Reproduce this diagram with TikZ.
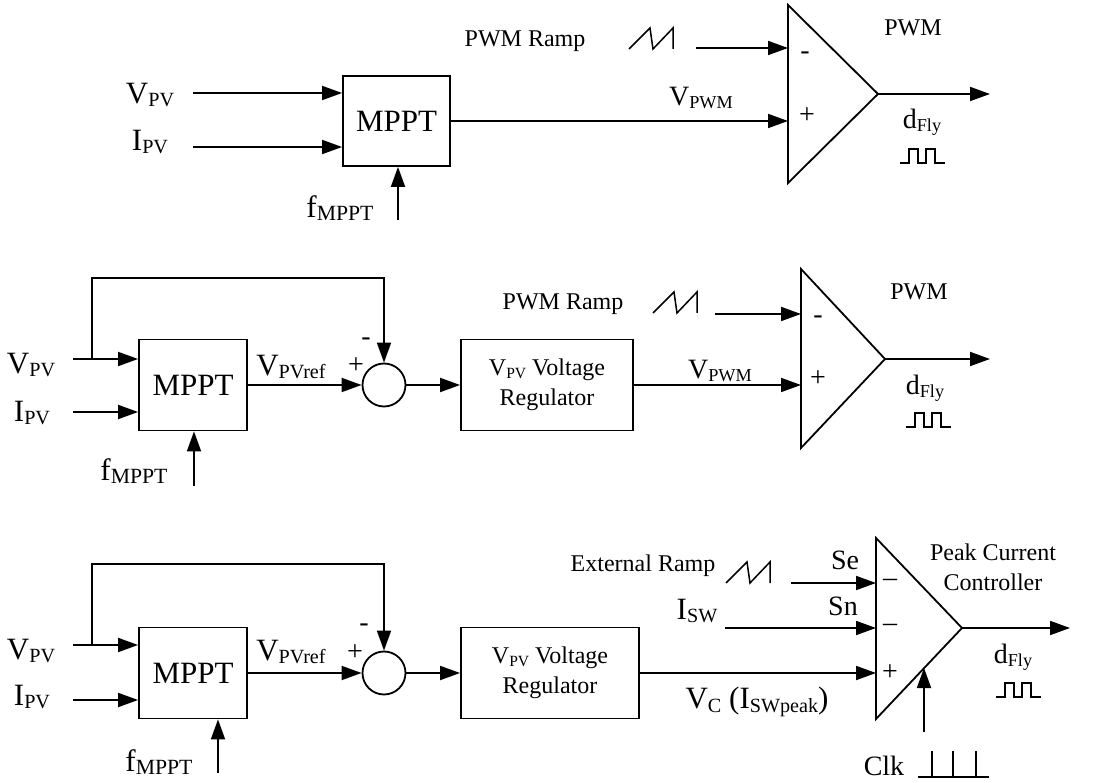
\documentclass[tikz,border=0pt]{standalone}
\usepackage{fontspec}
\setmainfont{Liberation Serif}
\usetikzlibrary{arrows.meta}
\tikzset{>={Triangle[length=20pt,width=14pt]}}
\newcommand{\fsL}{\fontsize{31}{36}\selectfont}
\newcommand{\fsM}{\fontsize{28}{32}\selectfont}
\newcommand{\fsS}{\fontsize{24}{30}\selectfont}
\newcommand{\sbs}[2][0.65]{\raisebox{-0.12em}{\fontsize{#1em}{#1em}\selectfont #2}}

\begin{document}
\begin{tikzpicture}[x=1pt,y=-1pt,line width=1.8pt,
  blk/.style={draw,inner sep=0pt,align=center},
  sig/.style={->},
  lbl/.style={inner sep=0pt}]
\useasboundingbox (0,0) rectangle (1101,783);

% top: MPPT drives the PWM comparator directly
\node[lbl,font=\fsL] (vpv1) at (150,95) {V\sbs{PV}};
\node[lbl,font=\fsL] (ipv1) at (150,142) {I\sbs{PV}};
\node[blk,font=\fsL,minimum width=107pt,minimum height=90pt] (mppt1) at (396.5,121) {MPPT};
\node[lbl,font=\fsL] (fm1) at (340,208) {f\sbs[0.7]{MPPT}};
\coordinate (v1) at (193,93);
\coordinate (i1) at (193,147);
\coordinate (f1) at (398,220);
\draw[sig] (v1) -- (v1 -| mppt1.west);
\draw[sig] (i1) -- (i1 -| mppt1.west);
\draw[sig] (f1) -- (f1 |- mppt1.south);
\draw (788,5) -- (788,183) -- (878,94) -- cycle;
\coordinate (c1m) at (788,48);
\coordinate (c1p) at (788,121);
\coordinate (c1o) at (878,94);
\coordinate (r1) at (696,48);
\coordinate (d1) at (990,94);
\draw[sig] (mppt1.east) -- (c1p);
\draw[sig] (r1) -- (c1m);
\draw[sig] (c1o) -- (d1);
\node[lbl,font=\fsM] (vpwm1) at (701,98) {V\sbs{PWM}};
\node[lbl,font=\fsS] (ramp1) at (525,41) {PWM Ramp};
\node[lbl,font=\fsS] (pwm1) at (913,28) {PWM};
\node[lbl,font=\fsM] at (805,56) {-};
\node[lbl,font=\fsM] at (807,116) {+};
\node[lbl,font=\fsM] (dfly1) at (922,122) {d\sbs{Fly}};

% middle: MPPT sets the reference of a voltage loop
\node[lbl,font=\fsL] (vpv2) at (31,365) {V\sbs{PV}};
\node[lbl,font=\fsL] (ipv2) at (32,413) {I\sbs{PV}};
\node[blk,font=\fsL,minimum width=108pt,minimum height=91pt] (mppt2) at (193,385) {MPPT};
\node[lbl,font=\fsL] (fm2) at (134,471) {f\sbs[0.7]{MPPT}};
\node[circle,draw,inner sep=0pt,minimum size=43pt] (sum2) at (384,385) {};
\node[blk,font=\fsS,minimum width=172pt,minimum height=91pt] (reg2) at (547,385) {V\sbs{PV} Voltage\\Regulator};
\coordinate (v2) at (73,359);
\coordinate (br2) at (92,359);
\coordinate (fb2) at (384,278);
\coordinate (i2) at (73,412);
\coordinate (f2) at (194,486);
\draw[sig] (v2) -- (v2 -| mppt2.west);
\draw[sig] (i2) -- (i2 -| mppt2.west);
\draw[sig] (f2) -- (f2 |- mppt2.south);
\draw[sig] (br2) |- (fb2) -- (sum2.north);
\draw[sig] (mppt2.east) -- (sum2.west);
\draw[sig] (sum2.east) -- (reg2.west);
\node[lbl,font=\fsL] (vref2) at (291,367) {V\sbs{PVref}};
\node[lbl,font=\fsM] at (356,366) {+};
\node[lbl,font=\fsM] at (366,342) {-};
\draw (801,269) -- (801,448) -- (885,359) -- cycle;
\coordinate (c2m) at (801,314);
\coordinate (c2p) at (801,385);
\coordinate (c2o) at (885,359);
\coordinate (r2) at (715,314);
\coordinate (d2) at (990,359);
\draw[sig] (reg2.east) -- (c2p);
\draw[sig] (r2) -- (c2m);
\draw[sig] (c2o) -- (d2);
\node[lbl,font=\fsM] (vpwm2) at (720,371) {V\sbs{PWM}};
\node[lbl,font=\fsS] (ramp2) at (563,304) {PWM Ramp};
\node[lbl,font=\fsS] (pwm2) at (919,292) {PWM};
\node[lbl,font=\fsM] at (818,320) {-};
\node[lbl,font=\fsM] at (818,379) {+};
\node[lbl,font=\fsM] (dfly2) at (925,388) {d\sbs{Fly}};

% bottom: voltage loop feeding a peak current controller
\node[lbl,font=\fsL] (vpv3) at (31,651) {V\sbs{PV}};
\node[lbl,font=\fsL] (ipv3) at (32,697) {I\sbs{PV}};
\node[blk,font=\fsL,minimum width=108pt,minimum height=91pt] (mppt3) at (193,673) {MPPT};
\node[lbl,font=\fsL] (fm3) at (159,762) {f\sbs[0.7]{MPPT}};
\node[circle,draw,inner sep=0pt,minimum size=43pt] (sum3) at (384,673) {};
\node[blk,font=\fsS,minimum width=178pt,minimum height=91pt] (reg3) at (550,673) {V\sbs{PV} Voltage\\Regulator};
\coordinate (v3) at (73,645);
\coordinate (br3) at (92,645);
\coordinate (fb3) at (384,564);
\coordinate (i3) at (73,700);
\coordinate (f3) at (218,773);
\draw[sig] (v3) -- (v3 -| mppt3.west);
\draw[sig] (i3) -- (i3 -| mppt3.west);
\draw[sig] (f3) -- (f3 |- mppt3.south);
\draw[sig] (br3) |- (fb3) -- (sum3.north);
\draw[sig] (mppt3.east) -- (sum3.west);
\draw[sig] (sum3.east) -- (reg3.west);
\node[lbl,font=\fsL] (vref3) at (291,652) {V\sbs{PVref}};
\node[lbl,font=\fsM] at (355,653) {+};
\node[lbl,font=\fsM] at (364,628) {-};
\draw (876,538) -- (876,719) -- (962,628) -- cycle;
\coordinate (c3se) at (876,583);
\coordinate (c3sn) at (876,628);
\coordinate (c3p) at (876,673);
\coordinate (c3o) at (962,628);
\coordinate (c3clk) at (924,668);
\coordinate (r3) at (791,583);
\coordinate (isw3) at (725,628);
\coordinate (k3) at (924,732);
\coordinate (d3) at (1070,628);
\draw[sig] (reg3.east) -- (c3p);
\draw[sig] (r3) -- (c3se);
\draw[sig] (isw3) -- (c3sn);
\draw[sig] (k3) -- (c3clk);
\draw[sig] (c3o) -- (d3);
\node[lbl,font=\fsL] (vc3) at (757,702) {V\sbs{C} (I\sbs{SWpeak})};
\node[lbl,font=\fsL] (isw) at (697,611) {I\sbs{SW}};
\node[lbl,font=\fsS] (ramp3) at (643,566) {External Ramp};
\node[lbl,font=\fsM] (se3) at (845,560) {Se};
\node[lbl,font=\fsM] (sn3) at (843,606) {Sn};
\node[lbl,font=\fsM] at (890,583) {–};
\node[lbl,font=\fsM] at (890,628) {–};
\node[lbl,font=\fsM] at (890,673) {+};
\node[lbl,font=\fsS,align=center] (pcc3) at (993,567) {Peak Current\\Controller};
\node[lbl,font=\fsM] (dfly3) at (1013,657) {d\sbs{Fly}};
\node[lbl,font=\fsM] (clk3) at (884,766) {Clk};

% ramps, pulse trains and clock
\foreach \x/\y in {629/49,653/313,726/583}
  \draw[line width=1.5pt] (\x,\y) -- ++(21,-21) -- ++(3,21) -- ++(20,-21) -- ++(0,21);
\foreach \x/\y in {900/163,906/427,996/697}
  \draw[line width=1.5pt] (\x,\y) -- ++(9,0) -- ++(0,-14) -- ++(9,0) -- ++(0,14)
    -- ++(8,0) -- ++(0,-14) -- ++(9,0) -- ++(0,14) -- ++(10,0);
\draw[line width=1.5pt] (918,777) -- (989,777);
\foreach \x in {932,953,976}
  \draw[line width=1.5pt] (\x,777) -- (\x,751);
\end{tikzpicture}
\end{document}
